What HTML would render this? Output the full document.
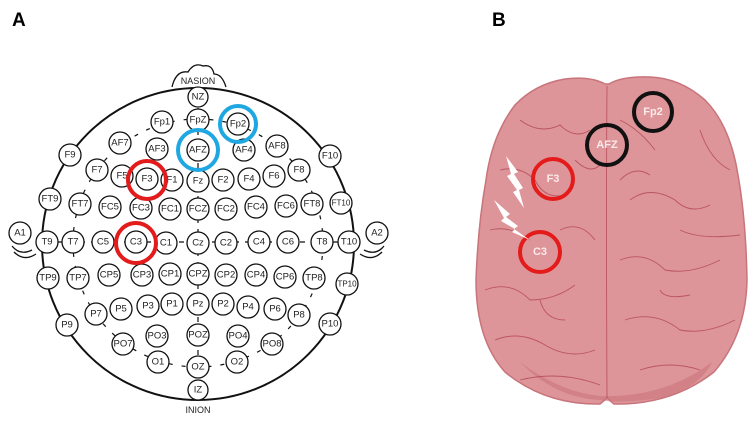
<!DOCTYPE html>
<html><head><meta charset="utf-8"><style>
html,body{margin:0;padding:0;background:#fff;}
svg{display:block;}
.e circle{fill:#fff;stroke:#111;stroke-width:1.3;}
.e text{font-family:"Liberation Sans",sans-serif;font-size:9.5px;fill:#222;text-anchor:middle;dominant-baseline:central;}
.lab{font-family:"Liberation Sans",sans-serif;font-weight:bold;font-size:19px;fill:#000;}
.bt{font-family:"Liberation Sans",sans-serif;font-weight:bold;font-size:11px;fill:#fbeaea;text-anchor:middle;dominant-baseline:central;}
.s{fill:none;stroke:#b0404f;stroke-width:0.9;opacity:0.75}
</style></head><body>
<svg width="756" height="423" viewBox="0 0 756 423" xmlns="http://www.w3.org/2000/svg">
<text class="lab" x="12" y="26">A</text>
<text class="lab" x="492" y="26">B</text>

<path d="M172 87 Q176 70 188 72 Q194 62 203 66 Q212 64 214 74 Q222 74 226 87" fill="#fff" stroke="#111" stroke-width="1.3"/>
<circle cx="198" cy="244" r="156" fill="none" stroke="#111" stroke-width="2"/>
<text x="198" y="84" font-family="Liberation Sans,sans-serif" font-size="9" text-anchor="middle" fill="#222">NASION</text>
<text x="198" y="413" font-family="Liberation Sans,sans-serif" font-size="9" text-anchor="middle" fill="#222">INION</text>
<path d="M12 246 Q20 256 32 250 M14 252 Q24 262 36 254" fill="none" stroke="#111" stroke-width="1.3"/>
<path d="M384 246 Q376 256 364 250 M382 252 Q372 262 360 254" fill="none" stroke="#111" stroke-width="1.3"/>
<ellipse cx="198" cy="243" rx="125" ry="124" fill="none" stroke="#111" stroke-width="1.2" stroke-dasharray="4 9"/>
<path d="M198 97 V390 M47 242 H349" stroke="#111" stroke-width="1.2" fill="none" stroke-dasharray="5 6"/>

<g class="e">
<circle cx="198" cy="97" r="10"/><text x="198" y="97">NZ</text>
<circle cx="198" cy="120" r="11"/><text x="198" y="120">FpZ</text>
<circle cx="162" cy="122" r="11"/><text x="162" y="122">Fp1</text>
<circle cx="238" cy="124" r="11"/><text x="238" y="124">Fp2</text>
<circle cx="120" cy="143" r="11"/><text x="120" y="143">AF7</text>
<circle cx="157" cy="149" r="11"/><text x="157" y="149">AF3</text>
<circle cx="198" cy="150" r="11"/><text x="198" y="150">AFZ</text>
<circle cx="244" cy="150" r="11"/><text x="244" y="150">AF4</text>
<circle cx="277" cy="146" r="11"/><text x="277" y="146">AF8</text>
<circle cx="70" cy="155" r="11"/><text x="70" y="155">F9</text>
<circle cx="330" cy="156" r="11"/><text x="330" y="156">F10</text>
<circle cx="97" cy="170" r="11"/><text x="97" y="170">F7</text>
<circle cx="122" cy="176" r="11"/><text x="122" y="176">F5</text>
<circle cx="147" cy="179" r="11"/><text x="147" y="179">F3</text>
<circle cx="172" cy="180" r="11"/><text x="172" y="180">F1</text>
<circle cx="198" cy="181" r="11"/><text x="198" y="181">Fz</text>
<circle cx="223" cy="180" r="11"/><text x="223" y="180">F2</text>
<circle cx="249" cy="179" r="11"/><text x="249" y="179">F4</text>
<circle cx="274" cy="176" r="11"/><text x="274" y="176">F6</text>
<circle cx="299" cy="170" r="11"/><text x="299" y="170">F8</text>
<circle cx="50" cy="199" r="11"/><text x="50" y="199">FT9</text>
<circle cx="80" cy="204" r="11"/><text x="80" y="204">FT7</text>
<circle cx="110" cy="207" r="11"/><text x="110" y="207">FC5</text>
<circle cx="141" cy="208" r="11"/><text x="141" y="208">FC3</text>
<circle cx="170" cy="209" r="11"/><text x="170" y="209">FC1</text>
<circle cx="198" cy="209" r="11"/><text x="198" y="209">FCZ</text>
<circle cx="226" cy="209" r="11"/><text x="226" y="209">FC2</text>
<circle cx="256" cy="207" r="11"/><text x="256" y="207">FC4</text>
<circle cx="286" cy="206" r="11"/><text x="286" y="206">FC6</text>
<circle cx="312" cy="204" r="11"/><text x="312" y="204">FT8</text>
<circle cx="341" cy="203" r="11"/><text x="341" y="203" style="font-size:8px">FT10</text>
<circle cx="20" cy="233" r="11"/><text x="20" y="233">A1</text>
<circle cx="47" cy="242" r="11"/><text x="47" y="242">T9</text>
<circle cx="73" cy="242" r="11"/><text x="73" y="242">T7</text>
<circle cx="103" cy="242" r="11"/><text x="103" y="242">C5</text>
<circle cx="136" cy="242" r="11"/><text x="136" y="242">C3</text>
<circle cx="166" cy="243" r="11"/><text x="166" y="243">C1</text>
<circle cx="198" cy="243" r="11"/><text x="198" y="243">Cz</text>
<circle cx="226" cy="243" r="11"/><text x="226" y="243">C2</text>
<circle cx="259" cy="242" r="11"/><text x="259" y="242">C4</text>
<circle cx="288" cy="242" r="11"/><text x="288" y="242">C6</text>
<circle cx="322" cy="242" r="11"/><text x="322" y="242">T8</text>
<circle cx="349" cy="242" r="11"/><text x="349" y="242">T10</text>
<circle cx="377" cy="233" r="11"/><text x="377" y="233">A2</text>
<circle cx="48" cy="278" r="11"/><text x="48" y="278">TP9</text>
<circle cx="78" cy="278" r="11"/><text x="78" y="278">TP7</text>
<circle cx="109" cy="275" r="11"/><text x="109" y="275">CP5</text>
<circle cx="142" cy="275" r="11"/><text x="142" y="275">CP3</text>
<circle cx="170" cy="274" r="11"/><text x="170" y="274">CP1</text>
<circle cx="198" cy="274" r="11"/><text x="198" y="274">CPZ</text>
<circle cx="226" cy="275" r="11"/><text x="226" y="275">CP2</text>
<circle cx="256" cy="275" r="11"/><text x="256" y="275">CP4</text>
<circle cx="285" cy="277" r="11"/><text x="285" y="277">CP6</text>
<circle cx="314" cy="278" r="11"/><text x="314" y="278">TP8</text>
<circle cx="347" cy="284" r="11"/><text x="347" y="284" style="font-size:8px">TP10</text>
<circle cx="67" cy="325" r="11"/><text x="67" y="325">P9</text>
<circle cx="96" cy="314" r="11"/><text x="96" y="314">P7</text>
<circle cx="121" cy="309" r="11"/><text x="121" y="309">P5</text>
<circle cx="148" cy="306" r="11"/><text x="148" y="306">P3</text>
<circle cx="172" cy="304" r="11"/><text x="172" y="304">P1</text>
<circle cx="198" cy="304" r="11"/><text x="198" y="304">Pz</text>
<circle cx="223" cy="304" r="11"/><text x="223" y="304">P2</text>
<circle cx="248" cy="307" r="11"/><text x="248" y="307">P4</text>
<circle cx="275" cy="309" r="11"/><text x="275" y="309">P6</text>
<circle cx="299" cy="315" r="11"/><text x="299" y="315">P8</text>
<circle cx="330" cy="324" r="11"/><text x="330" y="324">P10</text>
<circle cx="123" cy="344" r="11"/><text x="123" y="344">PO7</text>
<circle cx="157" cy="336" r="11"/><text x="157" y="336">PO3</text>
<circle cx="198" cy="335" r="11"/><text x="198" y="335">POZ</text>
<circle cx="238" cy="336" r="11"/><text x="238" y="336">PO4</text>
<circle cx="272" cy="344" r="11"/><text x="272" y="344">PO8</text>
<circle cx="158" cy="362" r="11"/><text x="158" y="362">O1</text>
<circle cx="198" cy="367" r="11"/><text x="198" y="367">OZ</text>
<circle cx="237" cy="362" r="11"/><text x="237" y="362">O2</text>
<circle cx="198" cy="390" r="10"/><text x="198" y="390">IZ</text>
</g>
<circle cx="238" cy="124" r="18" fill="none" stroke="#1ea7e1" stroke-width="4"/>
<circle cx="198" cy="150" r="20" fill="none" stroke="#1ea7e1" stroke-width="4"/>
<circle cx="147" cy="180" r="19" fill="none" stroke="#e41b1b" stroke-width="4"/>
<circle cx="136" cy="243" r="20" fill="none" stroke="#e41b1b" stroke-width="4"/>

<!-- brain -->
<path d="M605 84 Q590 76 565 79 Q535 84 515 105 Q492 135 486 180 Q478 225 476 280 Q476 340 505 372 Q545 405 600 404 L607 398 L614 404 Q672 405 714 372 Q746 335 747 280 Q746 220 738 175 Q730 125 705 100 Q680 78 650 77 Q622 76 609 84 Z" fill="#dd9599" stroke="#c8747b" stroke-width="1.5"/>
<path d="M520 362 Q560 392 600 396 L614 396 Q670 394 712 362 Q700 388 660 398 Q620 404 600 400 Q555 398 520 362Z" fill="#c97379" opacity="0.55"/>
<path d="M607 86 Q606 200 607 398" class="s" stroke-width="1.5"/>
<path class="s" d="M520 120 Q540 135 560 125 Q575 140 590 130 M500 170 Q520 165 535 180 Q545 200 565 195 M490 230 Q510 225 530 240 M485 290 Q510 280 530 300 Q555 300 575 285 M495 340 Q520 330 545 345 Q570 360 595 350 M560 230 Q580 220 595 240 M575 160 Q590 175 600 165 M540 300 Q545 320 565 320 M520 380 Q560 370 600 385 M620 120 Q640 130 655 150 M630 200 Q650 185 675 200 Q690 215 710 205 M620 260 Q645 250 665 270 Q690 275 720 260 M625 320 Q655 310 680 330 Q705 335 735 320 M640 370 Q670 360 700 370 M700 130 Q710 160 730 170 M680 230 Q700 240 740 235 M620 180 Q635 165 650 175 M660 290 Q665 300 690 295"/>
<circle cx="653" cy="112" r="19" fill="none" stroke="#111" stroke-width="4"/>
<text class="bt" x="653" y="112">Fp2</text>
<circle cx="607" cy="145" r="20" fill="none" stroke="#111" stroke-width="4"/>
<text class="bt" x="607" y="145">AFZ</text>
<circle cx="553" cy="179" r="20" fill="none" stroke="#e41b1b" stroke-width="4"/>
<text class="bt" x="553" y="179">F3</text>
<circle cx="540" cy="252" r="20" fill="none" stroke="#e41b1b" stroke-width="4"/>
<text class="bt" x="540" y="252">C3</text>
<path d="M506 156 L518 172 L514 174 L523 188 L519 190 L524 208 L513 192 L517 190 L507 176 L511 174 Z" fill="#fff"/>
<path d="M494 200 L510 214 L506 217 L518 226 L514 229 L530 240 L512 232 L515 229 L501 221 L504 218 Z" fill="#fff"/>
</svg>
</body></html>
